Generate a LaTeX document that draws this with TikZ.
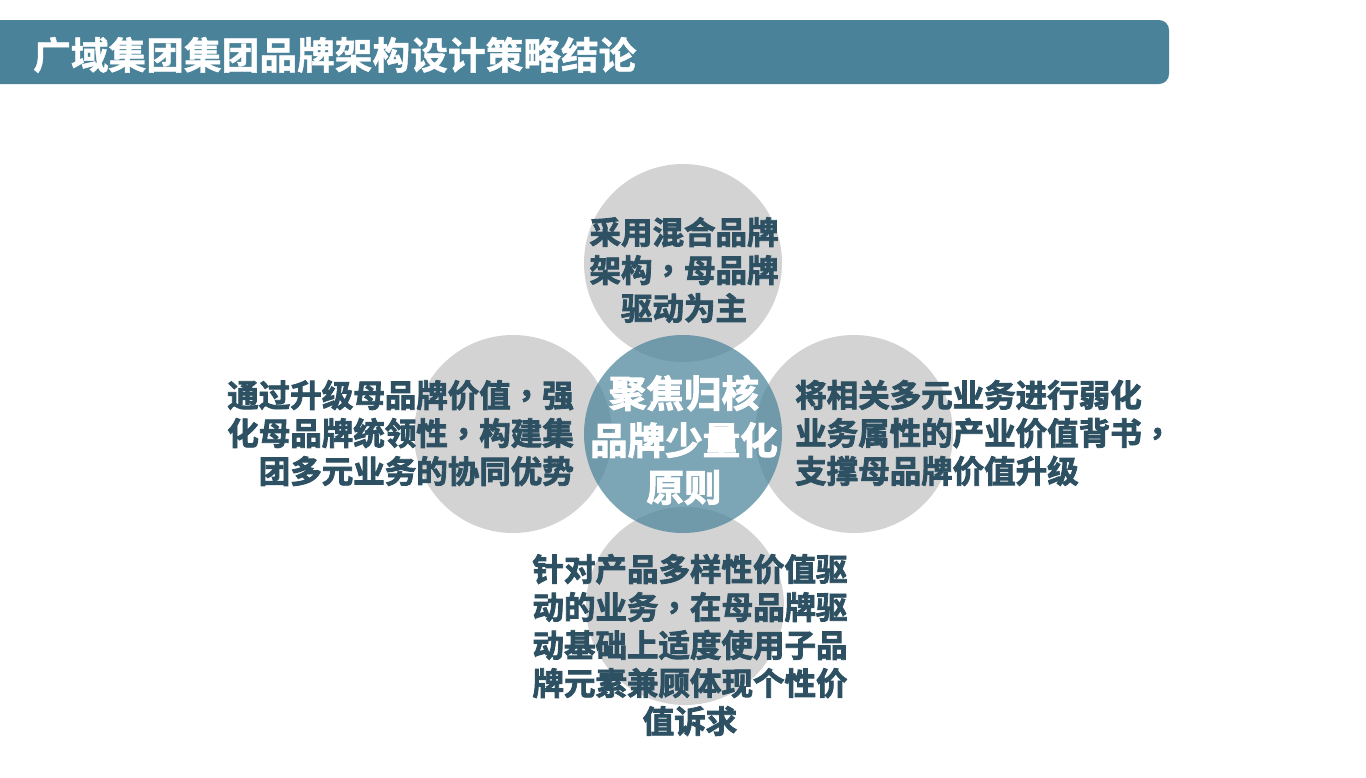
\documentclass[tikz,border=0pt]{standalone}
\usepackage{fontspec}
\newfontfamily\cjk{Noto Sans CJK SC}[UprightFont={* Bold}, FakeBold=2.6]
\newfontfamily\cjktitle{Noto Sans CJK SC}[UprightFont={* Bold}, FakeBold=1.2]
\newfontfamily\cjktc{Noto Sans CJK TC}[UprightFont={* Bold}, FakeBold=2.6]
\newcommand{\zc}{{\cjktc ，}}
\definecolor{barteal}{HTML}{4A8399}
\definecolor{circgray}{HTML}{D3D3D3}
\definecolor{txtdark}{HTML}{2D5062}
\tikzset{
  graycirc/.style={circle, fill=circgray, draw=none, inner sep=0pt, minimum size=198pt},
  corecirc/.style={circle, fill=barteal, fill opacity=0.72, draw=none, inner sep=0pt, minimum size=198pt},
  sidetext/.style={text=txtdark, inner sep=0pt, font=\cjk\fontsize{31.5}{38}\selectfont},
  coretext/.style={text=white, inner sep=0pt, align=center, font=\cjk\fontsize{37.5}{47}\selectfont},
  titletext/.style={text=white, inner sep=0pt, anchor=west, font=\cjktitle\fontsize{37.7}{40}\selectfont}
}
\begin{document}
\begin{tikzpicture}[x=1pt,y=-1pt]
\useasboundingbox (0,0) rectangle (1366,777);
\fill[white] (0,0) rectangle (1366,777);
% title bar
\fill[barteal, rounded corners=10pt] (-30,20) rectangle (1169,84);
\node[titletext] (title) at (33,55) {广域集团集团品牌架构设计策略结论};
% circles
\node[graycirc] (ctop) at (683,263) {};
\node[graycirc] (cleft) at (513,434) {};
\node[graycirc] (cright) at (854,434) {};
\node[graycirc] (cbottom) at (685,606) {};
\node[corecirc] (ccore) at (683,434) {};
% texts
\node[sidetext, align=center] (ttop) at (684,270) {采用混合品牌\\架构\zc 母品牌\\驱动为主};
\node[sidetext, align=right, anchor=east] (tleft) at (574,433) {通过升级母品牌价值\zc 强\\化母品牌统领性\zc 构建集\\团多元业务的协同优势};
\node[sidetext, align=left, anchor=west] (tright) at (795,433) {将相关多元业务进行弱化\\业务属性的产业价值背书\zc\\支撑母品牌价值升级};
\node[sidetext, align=center] (tbottom) at (690,645) {针对产品多样性价值驱\\动的业务\zc 在母品牌驱\\动基础上适度使用子品\\牌元素兼顾体现个性价\\值诉求};
\node[coretext] (tcore) at (684,440) {聚焦归核\\品牌少量化\\原则};
\end{tikzpicture}
\end{document}
